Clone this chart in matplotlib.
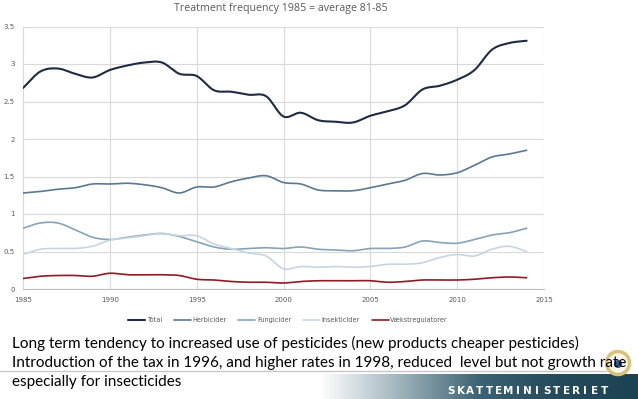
import matplotlib.pyplot as plt
import numpy as np
from matplotlib.colors import LinearSegmentedColormap
from matplotlib.patches import Circle

years = list(range(1985, 2015))

total = [2.68, 2.90, 2.94, 2.87, 2.82, 2.92, 2.98, 3.02, 3.02, 2.87,
         2.84, 2.65, 2.63, 2.59, 2.57, 2.30, 2.35, 2.25, 2.23, 2.22,
         2.31, 2.37, 2.45, 2.66, 2.71, 2.79, 2.92, 3.19, 3.28, 3.31]
herbicider = [1.28, 1.30, 1.33, 1.35, 1.40, 1.40, 1.41, 1.39, 1.35, 1.28,
              1.36, 1.36, 1.43, 1.48, 1.51, 1.42, 1.40, 1.32, 1.31, 1.31,
              1.35, 1.40, 1.45, 1.54, 1.52, 1.55, 1.65, 1.76, 1.80, 1.85]
fungicider = [0.81, 0.88, 0.88, 0.79, 0.69, 0.66, 0.69, 0.72, 0.74, 0.70,
              0.63, 0.56, 0.53, 0.54, 0.55, 0.54, 0.56, 0.53, 0.52, 0.51,
              0.54, 0.54, 0.56, 0.64, 0.62, 0.61, 0.66, 0.72, 0.75, 0.81]
insekticider = [0.46, 0.53, 0.54, 0.54, 0.57, 0.65, 0.68, 0.71, 0.74, 0.71,
                0.71, 0.60, 0.54, 0.48, 0.44, 0.27, 0.30, 0.29, 0.30, 0.29,
                0.30, 0.33, 0.33, 0.35, 0.42, 0.46, 0.44, 0.53, 0.57, 0.50]
vaekst = [0.14, 0.17, 0.18, 0.18, 0.17, 0.21, 0.19, 0.19, 0.19, 0.18,
          0.13, 0.12, 0.10, 0.09, 0.09, 0.08, 0.10, 0.11, 0.11, 0.11,
          0.11, 0.09, 0.10, 0.12, 0.12, 0.12, 0.13, 0.15, 0.16, 0.15]

series = [
    ("Total", total, "#1f2a44", 1.5),
    ("Herbicider", herbicider, "#5b7891", 1.2),
    ("Fungicider", fungicider, "#86a3b8", 1.2),
    ("Insekticider", insekticider, "#c6d6e1", 1.2),
    ("Vækstregulatorer", vaekst, "#8e1b24", 1.2),
]

title = "Treatment frequency 1985 = average 81-85"
notes = [
    "Long term tendency to increased use of pesticides (new products cheaper pesticides)",
    "Introduction of the tax in 1996, and higher rates in 1998, reduced  level but not growth rate",
    "especially for insecticides",
]
brand = "SKATTEMINISTERIET"


def smooth(x, y, n=12):
    # catmull-rom, like excel's smoothed lines
    x = np.asarray(x, float)
    y = np.asarray(y, float)
    px = np.concatenate([[2 * x[0] - x[1]], x, [2 * x[-1] - x[-2]]])
    py = np.concatenate([[2 * y[0] - y[1]], y, [2 * y[-1] - y[-2]]])
    t = np.linspace(0, 1, n, endpoint=False)
    xs, ys = [], []
    for i in range(1, len(px) - 2):
        for p, out in ((px, xs), (py, ys)):
            p0, p1, p2, p3 = p[i - 1], p[i], p[i + 1], p[i + 2]
            out.extend(0.5 * (2 * p1 + (-p0 + p2) * t
                              + (2 * p0 - 5 * p1 + 4 * p2 - p3) * t ** 2
                              + (-p0 + 3 * p1 - 3 * p2 + p3) * t ** 3))
    xs.append(x[-1])
    ys.append(y[-1])
    return np.array(xs), np.array(ys)


W, H = 638, 399
fig = plt.figure(figsize=(W / 100, H / 100), dpi=100)
ax = fig.add_axes([23 / W, 1 - 289 / H, 521 / W, 262.5 / H])

for name, vals, color, lw in series:
    sx, sy = smooth(years, vals)
    ax.plot(sx, sy, color=color, lw=lw, label=name, solid_capstyle='round')

ax.set_xlim(1985, 2015)
ax.set_ylim(0, 3.5)
ax.set_xticks(range(1985, 2016, 5))
ax.set_yticks(np.arange(0, 3.51, 0.5))
ax.set_yticklabels(["0", "0.5", "1", "1.5", "2", "2.5", "3", "3.5"])
ax.grid(True, color="#d9d9d9", lw=0.8)
ax.set_axisbelow(True)
for s in ax.spines.values():
    s.set_visible(False)
ax.spines['bottom'].set_visible(True)
ax.spines['bottom'].set_color("#bfbfbf")
ax.tick_params(length=0, labelsize=5, labelcolor="#595959", pad=6)

fig.text(281 / W, 1 - 9 / H, title, ha='center', va='center',
         fontsize=7.7, color="#595959", family="Open Sans")

fig.legend(loc='center', bbox_to_anchor=(288 / W, 1 - 320 / H), ncol=5,
           frameon=False, fontsize=4.7, handlelength=2.6, columnspacing=1.8,
           handletextpad=0.25, labelcolor="#595959")

# bottom banner
fig.add_artist(plt.Line2D([0, 606 / W], [1 - 371 / H] * 2, color="#c8c8c8", lw=1))
bax = fig.add_axes([320 / W, 0, 318 / W, 25 / H])
cmap = LinearSegmentedColormap.from_list("band", ["#ffffff", "#9fb3bc", "#3d6273", "#244a5b", "#1d4253"])
bax.imshow(np.linspace(0, 1, 256).reshape(1, -1), aspect='auto', cmap=cmap, extent=[0, 1, 0, 1])
bax.axis('off')
for i, ch in enumerate(brand):
    fig.text((451 + i * 9.6) / W, 1 - 391 / H, ch, ha='center', va='center',
             fontsize=7.5, color="white", weight='heavy', family="DejaVu Sans")

eax = fig.add_axes([(618 - 16) / W, 1 - (363 + 16) / H, 32 / W, 32 / H])
eax.set_xlim(-16, 16)
eax.set_ylim(-16, 16)
eax.axis('off')
eax.add_patch(Circle((0, 0), 11.5, facecolor="#f8f5ea", edgecolor="#d8c279", lw=2.5))
eax.add_patch(Circle((0, -1), 4, facecolor="#2d5b8c", edgecolor="none"))

for i, line in enumerate(notes):
    fig.text(12 / W, 1 - (343 + i * 19.5) / H, line, ha='left', va='center',
             fontsize=11, color="black", family="Lato")

fig.savefig("out.png", dpi=100)
